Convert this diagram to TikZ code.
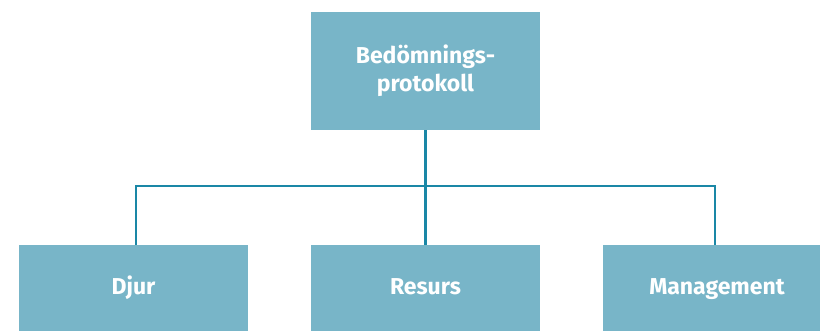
\documentclass[tikz,border=0pt]{standalone}
\usepackage{fontspec}
\setmainfont{Fira Sans}
\definecolor{boxfill}{HTML}{78B5C8}
\definecolor{linecol}{HTML}{1A87A6}
\begin{document}
\begin{tikzpicture}[x=1pt,y=1pt,
  box/.style={fill=boxfill,draw=none,inner sep=0pt,minimum width=229pt,font=\fontsize{23}{28}\selectfont\bfseries,text=white},
  topbox/.style={box,align=center,minimum height=118pt},
  botbox/.style={box,minimum height=86pt,text height=12pt,text depth=0pt},
  conn/.style={draw=linecol,line width=2.5pt}]
\useasboundingbox (0,0) rectangle (820,330);
\clip (0,0) rectangle (820,330);
\node[topbox] (top) at (425.5,259) {Bedömnings-\\protokoll};
\node[botbox] (djur) at (133.5,42) {Djur};
\node[botbox] (res) at (425.5,42) {Resurs};
\node[botbox] (man) at (717,42) {Management};
\coordinate (jl) at (136,144);
\coordinate (jr) at (715,144);
\draw[conn] (top.south) -- (res.north);
\draw[conn] (djur.north -| jl) -- (jl) -- (jr) -- (man.north -| jr);
\end{tikzpicture}
\end{document}
